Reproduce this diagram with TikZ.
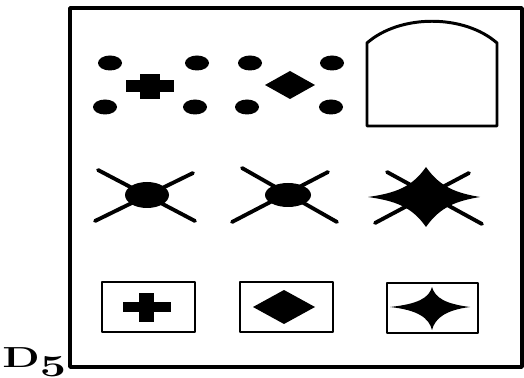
\documentclass[tikz,border=0pt]{standalone}
\usetikzlibrary{positioning}
\tikzset{
    panel/.style={line width=2pt},
    cell/.style={line width=1.7pt},
    ray/.style={line width=2.2pt, line cap=round},
    blob/.style={fill=black}
}
\begin{document}
\begin{tikzpicture}[x=0.02cm, y=-0.02cm, line join=round]
    \useasboundingbox (0,0) rectangle (524,378);
    % Draw the outer panel
    \draw[panel] (70,8) rectangle (522,367);
    % Add the label
    \node[anchor=base west, inner sep=0pt] (lbl) at (2,367)
        {\scalebox{1.5}[1]{\fontsize{16.5}{16.5}\selectfont\bfseries D\raisebox{-2pt}{\boldmath$\oldstylenums{5}$}}};

    % First row: dots with a plus and a diamond
    \foreach \x/\y in {110/63, 197/63, 250/63, 332/63, 105/107, 195/107, 247/107, 331/107}
        \fill (\x,\y) ellipse [x radius=12, y radius=7.5];
    \begin{scope}[shift={(150,86)}]
        \fill[blob] (-24,-6) rectangle (24,6);
        \fill[blob] (-10,-12) rectangle (10,13);
    \end{scope}
    \fill[blob] (265,85) -- (290,71) -- (315,85) -- (290,99) -- cycle;
    % Draw the arch
    \draw[cell] (367,126) -- (367,43) .. controls (400,14) and (464,14) .. (497,43) -- (497,126) -- cycle;

    % Second row: crossed blobs and the star
    \begin{scope}[shift={(147,195)}]
        \draw[ray] (-49,-25) -- (48,26);
        \draw[ray] (-52,26) -- (46,-22);
        \fill[blob] (0,0) ellipse [x radius=22, y radius=13];
    \end{scope}
    \begin{scope}[shift={(288,195)}]
        \draw[ray] (-46,-27) -- (49,27);
        \draw[ray] (-56,27) -- (40,-23);
        \fill[blob] (0,0) ellipse [x radius=23, y radius=12];
    \end{scope}
    \begin{scope}[shift={(426,197)}]
        \draw[ray] (-39,-25) -- (56,27);
        \draw[ray] (-51,26) -- (43,-24);
        \fill[blob] (-58,0) .. controls (-30,-4) and (-14,-10) .. (0,-30)
            .. controls (14,-10) and (30,-4) .. (54,0)
            .. controls (30,4) and (14,10) .. (0,30)
            .. controls (-14,10) and (-30,4) .. (-58,0) -- cycle;
        \fill[blob] (0,0) ellipse [x radius=17, y radius=14];
    \end{scope}

    % Third row: framed shapes
    \draw[cell] (102,282) rectangle (195,332);
    \begin{scope}[shift={(147,307)}]
        \fill[blob] (-24,-5) rectangle (24,5);
        \fill[blob] (-8,-14) rectangle (7,15);
    \end{scope}
    \draw[cell] (240,282) rectangle (333,332);
    \fill[blob] (253,307) -- (284,290) -- (315,307) -- (284,324) -- cycle;
    \draw[cell] (387,283) rectangle (478,333);
    \fill[blob] (390,307) .. controls (418,304) and (429,298) .. (432,287)
        .. controls (435,298) and (446,304) .. (470,307)
        .. controls (446,310) and (435,318) .. (432,330)
        .. controls (429,318) and (418,310) .. (390,307) -- cycle;
\end{tikzpicture}
\end{document}
